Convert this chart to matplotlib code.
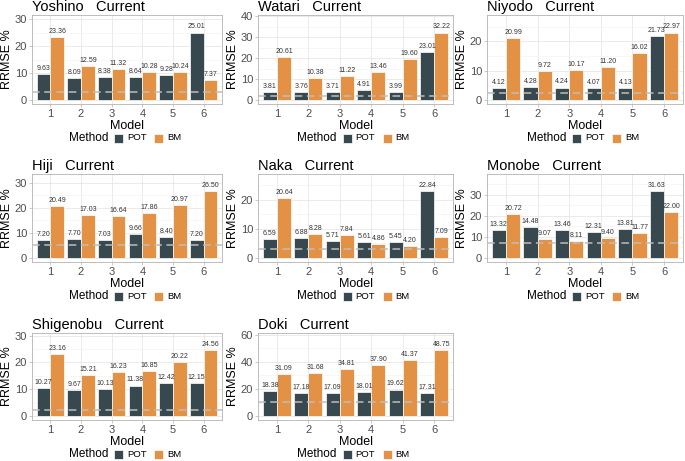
import matplotlib
matplotlib.use("Agg")
import matplotlib.pyplot as plt
from matplotlib.patches import Rectangle
from matplotlib.ticker import MultipleLocator
import numpy as np

plt.rcParams['font.family'] = ['Liberation Sans', 'DejaVu Sans']

# data
rivers = ["Yoshino", "Watari", "Niyodo", "Hiji", "Naka", "Monobe", "Shigenobu", "Doki"]
models = [1, 2, 3, 4, 5, 6]
pot = [
    [9.63, 8.09, 8.38, 8.64, 9.28, 25.01],
    [3.81, 3.76, 3.71, 4.91, 3.99, 23.01],
    [4.12, 4.28, 4.24, 4.07, 4.13, 21.73],
    [7.20, 7.70, 7.03, 9.66, 8.40, 7.20],
    [6.59, 6.88, 5.71, 5.61, 5.45, 22.84],
    [13.32, 14.48, 13.46, 12.31, 13.81, 31.63],
    [10.27, 9.67, 10.13, 11.38, 12.42, 12.15],
    [18.38, 17.18, 17.09, 18.01, 19.62, 17.31],
]
bm = [
    [23.36, 12.59, 11.32, 10.28, 10.24, 7.37],
    [20.61, 10.38, 11.22, 13.46, 19.60, 32.22],
    [20.99, 9.72, 10.17, 11.20, 16.02, 22.97],
    [20.49, 17.03, 16.64, 17.86, 20.97, 26.50],
    [20.64, 8.28, 7.84, 4.86, 4.20, 7.09],
    [20.72, 9.07, 8.11, 9.40, 11.77, 22.00],
    [23.16, 15.21, 16.23, 16.85, 20.22, 24.56],
    [31.09, 31.68, 34.81, 37.90, 41.37, 48.75],
]
ref_line = [3.1, 2.1, 2.4, 5.2, 3.1, 7.3, 2.3, 10.2]
tick_step = [10, 10, 10, 10, 10, 10, 10, 20]

POT_COL = "#37494F"
BM_COL = "#E39145"

W, H = 685, 461
fig = plt.figure(figsize=(W / 100, H / 100), dpi=100)

col_l = [32, 258, 487]
col_r = [222, 453, 683]
row_t = [15, 174, 333]
row_b = [104, 262, 420]


def fx(x):
    return x / W


def fy(y):
    return 1 - y / H


for i, name in enumerate(rivers):
    r, c = divmod(i, 3)
    l, rr, t, b = col_l[c], col_r[c], row_t[r], row_b[r]
    ax = fig.add_axes([fx(l), fy(b), (rr - l) / W, (b - t) / H])

    x = np.array(models)
    w = 0.45
    bars1 = ax.bar(x - w / 2, pot[i], w, color=POT_COL, edgecolor="white", linewidth=0.5, zorder=2)
    bars2 = ax.bar(x + w / 2, bm[i], w, color=BM_COL, edgecolor="white", linewidth=0.5, zorder=2)
    for bars in (bars1, bars2):
        for bar in bars:
            h = bar.get_height()
            ax.annotate(f"{h:.2f}", (bar.get_x() + bar.get_width() / 2, h),
                        xytext=(0, 1.5), textcoords="offset points",
                        ha="center", va="bottom", fontsize=5, color="#333333", zorder=4)
    ax.axhline(ref_line[i], color="#BDBDBD", lw=1.1, ls=(0, (5, 3)), zorder=3)

    top = max(max(pot[i]), max(bm[i])) * 1.2
    ax.set_ylim(-0.05 * top, top * 1.05)
    ax.set_xlim(0.4, 6.6)
    ax.set_xticks(models)
    ax.yaxis.set_major_locator(MultipleLocator(tick_step[i]))
    ax.yaxis.set_minor_locator(MultipleLocator(tick_step[i] / 2))
    ax.grid(which="major", color="#E3E3E3", lw=0.5, zorder=0)
    ax.grid(which="minor", axis="y", color="#F2F2F2", lw=0.4, zorder=0)
    ax.set_axisbelow(True)
    for s in ax.spines.values():
        s.set_color("#B3B3B3")
        s.set_linewidth(0.6)
    ax.tick_params(which="major", length=2, width=0.5, color="#B3B3B3",
                   labelsize=8, labelcolor="#4D4D4D", pad=1.5)
    ax.tick_params(which="minor", length=0)

    ax.set_xlabel("Model", fontsize=9, labelpad=0.5)
    ax.set_ylabel("RRMSE %", fontsize=9, labelpad=1)
    ax.set_title(f"{name}   Current", fontsize=10.5, loc="left", pad=3)

    # legend drawn below each panel
    cx = (l + rr) / 2
    ly = b + 34
    fig.text(fx(cx - 58), fy(ly), "Method", fontsize=8.5, ha="left", va="center")
    for dx, col, lab in ((-13, POT_COL, "POT"), (27, BM_COL, "BM")):
        fig.patches.append(Rectangle((fx(cx + dx), fy(ly + 4.5)), 9 / W, 9 / H,
                                     transform=fig.transFigure, facecolor=col,
                                     edgecolor="white", lw=0.5))
        fig.text(fx(cx + dx + 13), fy(ly), lab, fontsize=6.8, ha="left", va="center")

fig.savefig("out.png", dpi=100)
